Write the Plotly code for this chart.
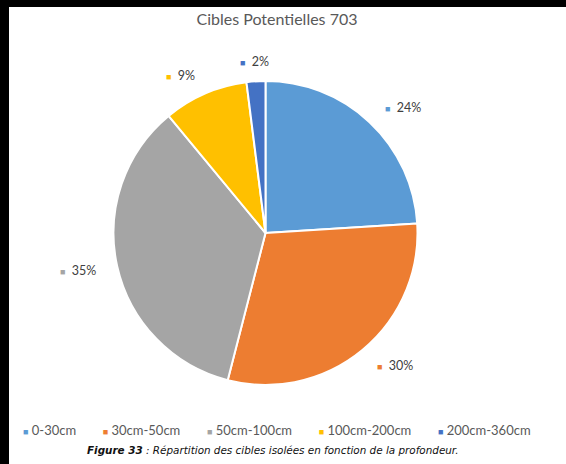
import math
import plotly.graph_objects as go

categories = ["0-30cm", "30cm-50cm", "50cm-100cm", "100cm-200cm", "200cm-360cm"]
values = [24, 30, 35, 9, 2]
colors = ["#5B9BD5", "#ED7D31", "#A5A5A5", "#FFC000", "#4472C4"]
title_text = "Cibles Potentielles 703"
caption_text = "<b><i>Figure 33</i></b><i> : Répartition des cibles isolées en fonction de la profondeur.</i>"

# page is 566x464; a black frame of 9px (left) and 7px (top) surrounds the white figure
PAGE_W, PAGE_H = 566, 464
OX, OY = 9, 7
W, H = PAGE_W - OX, PAGE_H - OY


def px_x(X):
    return (X - OX) / W


def px_y(Y):
    return (PAGE_H - Y) / H


PIE_CX, PIE_CY, PIE_R = 265.5, 233, 152
dom_x = [px_x(PIE_CX - PIE_R), px_x(PIE_CX + PIE_R)]
dom_y = [px_y(PIE_CY + PIE_R), px_y(PIE_CY - PIE_R)]

fig = go.Figure()
fig.add_trace(go.Pie(
    labels=categories, values=values, sort=False, direction="clockwise", rotation=0,
    marker=dict(colors=colors, line=dict(color="white", width=2)),
    textinfo="none", hoverinfo="label+percent", showlegend=False,
    domain=dict(x=dom_x, y=dom_y),
))

# outside percentage labels computed from the data (Excel-like placement)
total = sum(values)
k = 1.13
cum = 0
annotations = []
for v, col in zip(values, colors):
    mid = (cum + v / 2) / total * 2 * math.pi
    cum += v
    s, c = math.sin(mid), math.cos(mid)
    xa = "left" if s > 0.3 else ("right" if s < -0.3 else "center")
    X = PIE_CX + k * PIE_R * s
    Y = PIE_CY - k * PIE_R * c
    annotations.append(dict(
        x=px_x(X), y=px_y(Y), xref="paper", yref="paper", showarrow=False,
        text=f"<span style='color:{col};font-size:9px'>■</span>  {round(v / total * 100)}%",
        font=dict(family="Lato, Open Sans, sans-serif", size=12.5, color="#404040"),
        xanchor=xa, yanchor="middle",
    ))

# legend row built from the categories
gap = "&nbsp;" * 8
legend_text = gap.join(
    f"<span style='color:{col};font-size:9px'>■</span> {c}" for c, col in zip(categories, colors)
)
annotations.append(dict(
    x=px_x(277), y=px_y(429.5), xref="paper", yref="paper", showarrow=False,
    text=legend_text, font=dict(family="Lato, Open Sans, sans-serif", size=13, color="#595959"),
    xanchor="center", yanchor="middle",
))

annotations.append(dict(
    x=px_x(272), y=px_y(450), xref="paper", yref="paper", showarrow=False,
    text=caption_text, font=dict(family="DejaVu Sans, sans-serif", size=10.4, color="#111111"),
    xanchor="center", yanchor="middle",
))

fig.update_layout(
    width=W, height=H,
    margin=dict(l=0, r=0, t=0, b=0),
    paper_bgcolor="white", plot_bgcolor="white",
    showlegend=False,
    title=dict(text=title_text, x=px_x(277), xanchor="center", y=px_y(19), yanchor="middle",
               font=dict(family="Lato, Open Sans, sans-serif", size=16, color="#595959")),
    annotations=annotations,
)

post = (
    "document.documentElement.style.setProperty('background','#000','important');"
    "document.body.style.setProperty('background','#000','important');"
    "document.body.style.margin='0px';"
    "var d=document.getElementById('{plot_id}');"
    "d.style.marginLeft='%dpx';d.style.marginTop='%dpx';"
    "function band(l,t,w,h){var b=document.createElement('div');"
    "b.style.cssText='position:fixed;background:#000;z-index:9999;left:'+l+'px;top:'+t+'px;width:'+w+'px;height:'+h+'px';"
    "document.body.appendChild(b);}"
    "band(0,0,%d,%d);band(0,0,%d,%d);" % (OX, OY, PAGE_W, OY, OX, PAGE_H)
)
fig.write_html("out.html", config={"displayModeBar": False}, post_script=post)
